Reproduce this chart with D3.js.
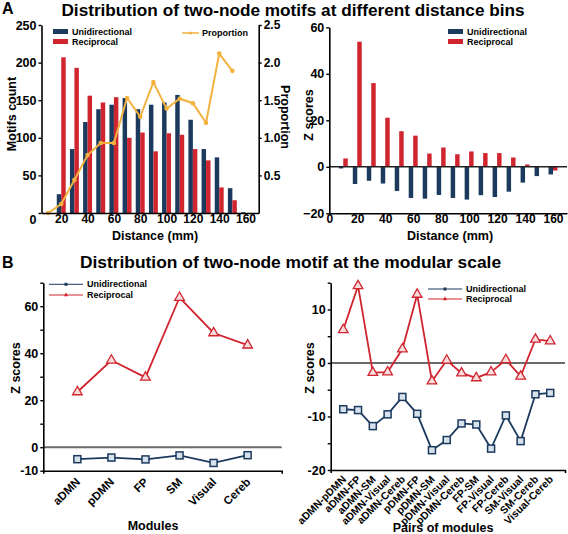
<!DOCTYPE html>
<html><head><meta charset="utf-8">
<script src="https://cdn.jsdelivr.net/npm/d3@7/dist/d3.min.js"></script>
<style>
body{margin:0;background:#fff;}
svg{display:block;font-family:"Liberation Sans",Arial,sans-serif;font-weight:bold;}
</style></head>
<body>
<script>
// ---------- DATA ----------
const distanceBins = [10,20,30,40,50,60,70,80,90,100,110,120,130,140,150,160];
const countUni = [0,25,85,121,138,144,153,138,144,147,157,124,85,74,33,1];
const countRec = [0,207,193,156,147,154,100,107,82,106,104,85,70,34,17,0];
const proportion = [0,0.12,0.44,0.77,0.93,0.93,1.53,1.28,1.74,1.39,1.52,1.46,1.20,2.12,1.89];
const zUniDist = [-0.7,-7.4,-6,-7.2,-10.4,-13.4,-13.7,-12.1,-13.4,-14.1,-12.2,-13,-10.7,-6.8,-4,-3.3];
const zRecDist = [3.6,53.8,36,21.1,15.3,13.4,5.7,8.3,5.4,6.6,5.9,5.9,4,1,0.3,-1.6];
const distTicksA = [20,40,60,80,100,120,140,160];
const distTicksB = [0,20,40,60,80,100,120,140,160];
const countTicks = [0,50,100,150,200,250];
const propTicks = [0.5,1,1.5,2,2.5];
const zDistTicks = [-20,0,20,40,60];

const modules = ["aDMN","pDMN","FP","SM","Visual","Cereb"];
const zUniMod = [-5.1,-4.4,-5.2,-3.5,-6.7,-3.4];
const zRecMod = [23.5,37,29.7,63.7,48.6,43.4];
const zModTicks = [-10,0,10,20,30,40,50,60,70];
const zModLabels = [-10,0,20,40,60];

const pairs = ["aDMN-pDMN","aDMN-FP","aDMN-SM","aDMN-Visual","aDMN-Cereb","pDMN-FP","pDMN-SM","pDMN-Visual","pDMN-Cereb","FP-SM","FP-Visual","FP-Cereb","SM-Visual","SM-Cereb","Visual-Cereb"];
const zUniPair = [-8.65,-8.8,-11.8,-9.6,-6.35,-9.5,-16.3,-14.4,-11.3,-11.5,-16,-9.8,-14.6,-5.85,-5.6];
const zRecPair = [6.2,14.4,-1.8,-1.7,2.6,12.8,-3.4,0.5,-1.9,-2.8,-1.7,0.6,-2.5,4.4,4.1];
const zPairTicks = [-20,-15,-10,-5,0,5,10,15];
const zPairLabels = [-20,-10,0,10];

// ---------- STYLE ----------
const BLUE = "#1b3a5e", RED = "#d0242f", ORANGE = "#f2b23e", GRAY = "#6b6b6b";
const W = 568, H = 534;
const svg = d3.select("body").append("svg").attr("width", W).attr("height", H);

function styleAxis(g, fs){
  g.selectAll("path").attr("stroke","#000").attr("stroke-width",1.6);
  g.selectAll("line").attr("stroke","#000").attr("stroke-width",1.4);
  g.selectAll("text").attr("font-size",fs).attr("font-weight","bold")
   .attr("font-family","'Liberation Sans',Arial,sans-serif").attr("fill","#000");
}
function label(x,y,t,fs,rot,anchor){
  const el = svg.append("text").attr("x",x).attr("y",y).attr("font-size",fs)
    .attr("text-anchor",anchor||"middle").attr("dominant-baseline","central").text(t);
  if(rot) el.attr("transform",`rotate(${rot},${x},${y})`);
  return el;
}

// Titles
svg.append("text").attr("x",2).attr("y",14).attr("font-size",16).text("A");
svg.append("text").attr("x",293).attr("y",15.5).attr("font-size",17.2).attr("text-anchor","middle")
  .text("Distribution of two-node motifs at different distance bins");
svg.append("text").attr("x",2).attr("y",268).attr("font-size",16).text("B");
svg.append("text").attr("x",290.5).attr("y",268).attr("font-size",17.4).attr("text-anchor","middle")
  .text("Distribution of two-node motif at the modular scale");

// ---------- Panel A left: counts ----------
{
  const x = d3.scaleLinear().domain([5,170]).range([41.5,258.7]);
  const y = d3.scaleLinear().domain([0,250]).range([213,25]);
  const yp = d3.scaleLinear().domain([0,2.5]).range([213,25]);
  const bw = (x(10)-x(0))*0.34;
  const g = svg.append("g");
  g.selectAll(".bu").data(distanceBins).enter().append("rect")
    .attr("x",d=>x(d)-bw).attr("width",bw)
    .attr("y",(d,i)=>y(countUni[i])).attr("height",(d,i)=>y(0)-y(countUni[i])).attr("fill",BLUE);
  g.selectAll(".br").data(distanceBins).enter().append("rect")
    .attr("x",d=>x(d)).attr("width",bw)
    .attr("y",(d,i)=>y(countRec[i])).attr("height",(d,i)=>y(0)-y(countRec[i])).attr("fill",RED);
  const pts = proportion.map((v,i)=>[distanceBins[i],v]);
  g.append("path").datum(pts).attr("fill","none").attr("stroke",ORANGE).attr("stroke-width",2)
    .attr("d",d3.line().x(d=>x(d[0])).y(d=>yp(d[1])));
  g.selectAll(".pp").data(pts).enter().append("circle").attr("cx",d=>x(d[0])).attr("cy",d=>yp(d[1]))
    .attr("r",2.3).attr("fill",ORANGE);
  const ax = svg.append("g").attr("transform","translate(0,213)")
    .call(d3.axisBottom(x).tickValues(distTicksA).tickSize(0).tickPadding(1.5).tickSizeOuter(0));
  styleAxis(ax,12);
  const ay = svg.append("g").attr("transform","translate(41.5,0)")
    .call(d3.axisLeft(y).tickValues(countTicks).tickSize(3).tickPadding(2).tickSizeOuter(0));
  styleAxis(ay,12.5);
  ay.selectAll(".tick").filter(d=>d===0).select("text").attr("dy","0.8em");
  const ar = svg.append("g").attr("transform","translate(258.7,0)")
    .call(d3.axisRight(yp).tickValues(propTicks).tickSize(3).tickPadding(2).tickSizeOuter(0));
  styleAxis(ar,12);
  label(12,114,"Motifs count",12.5,-90);
  label(285,117,"Proportion",12.5,90);
  label(155,236,"Distance (mm)",12.5);
  // legend
  svg.append("rect").attr("x",53).attr("y",29).attr("width",15).attr("height",5).attr("fill",BLUE);
  svg.append("rect").attr("x",53).attr("y",39).attr("width",15).attr("height",5).attr("fill",RED);
  label(72,31.5,"Unidirectional",9,0,"start");
  label(72,42,"Reciprocal",9,0,"start");
  svg.append("line").attr("x1",182).attr("x2",199).attr("y1",33).attr("y2",33).attr("stroke",ORANGE).attr("stroke-width",1.5);
  svg.append("circle").attr("cx",190.5).attr("cy",33).attr("r",1.5).attr("fill",ORANGE);
  label(202,33,"Proportion",9,0,"start");
}

// ---------- Panel A right: Z scores by distance ----------
{
  const x = d3.scaleLinear().domain([0,170]).range([329.3,567]);
  const y = d3.scaleLinear().domain([-20,60]).range([213.3,27.3]);
  const bw = (x(10)-x(0))*0.32;
  const g = svg.append("g");
  g.selectAll(".bu").data(distanceBins).enter().append("rect")
    .attr("x",d=>x(d)-bw).attr("width",bw)
    .attr("y",(d,i)=>Math.min(y(0),y(zUniDist[i]))).attr("height",(d,i)=>Math.abs(y(0)-y(zUniDist[i]))).attr("fill",BLUE);
  g.selectAll(".br").data(distanceBins).enter().append("rect")
    .attr("x",d=>x(d)).attr("width",bw)
    .attr("y",(d,i)=>Math.min(y(0),y(zRecDist[i]))).attr("height",(d,i)=>Math.abs(y(0)-y(zRecDist[i]))).attr("fill",RED);
  g.append("line").attr("x1",x(0)).attr("x2",567).attr("y1",y(0)).attr("y2",y(0)).attr("stroke","#222").attr("stroke-width",1.5);
  const ax = svg.append("g").attr("transform","translate(0,213.3)")
    .call(d3.axisBottom(x).tickValues(distTicksB).tickSize(0).tickPadding(1.5).tickSizeOuter(0));
  styleAxis(ax,12);
  const ay = svg.append("g").attr("transform","translate(329.3,0)")
    .call(d3.axisLeft(y).tickValues(zDistTicks).tickSize(3).tickPadding(2).tickSizeOuter(0));
  styleAxis(ay,12.5);
  label(309,115,"Z scores",12.5,-90);
  label(450,236,"Distance (mm)",12.5);
  svg.append("rect").attr("x",448).attr("y",29).attr("width",15).attr("height",5).attr("fill",BLUE);
  svg.append("rect").attr("x",448).attr("y",39).attr("width",15).attr("height",5).attr("fill",RED);
  label(467,31.5,"Unidirectional",9,0,"start");
  label(467,42,"Reciprocal",9,0,"start");
}

// ---------- marker helpers ----------
function drawSeries(g, xs, ys, vals, color, kind){
  const pts = vals.map((v,i)=>[xs(i+1), ys(v)]);
  g.append("path").datum(pts).attr("fill","none").attr("stroke",color).attr("stroke-width",1.8)
    .attr("d",d3.line());
  if(kind==="square"){
    g.selectAll(null).data(pts).enter().append("rect")
      .attr("x",d=>d[0]-3.5).attr("y",d=>d[1]-3.5).attr("width",7).attr("height",7)
      .attr("fill","#d8e2ec").attr("stroke",color).attr("stroke-width",1.5);
  } else {
    const s = d3.symbol().type(d3.symbolTriangle).size(40);
    g.selectAll(null).data(pts).enter().append("path")
      .attr("transform",d=>`translate(${d[0]},${d[1]})`).attr("d",s())
      .attr("fill","#f6dcdc").attr("stroke",color).attr("stroke-width",1.3);
  }
}
function lineLegend(x0,y0,txt,color,kind){
  svg.append("line").attr("x1",x0).attr("x2",x0+34).attr("y1",y0).attr("y2",y0).attr("stroke",color).attr("stroke-width",1);
  if(kind==="square") svg.append("rect").attr("x",x0+15.5).attr("y",y0-1.5).attr("width",3).attr("height",3).attr("fill",color);
  else svg.append("path").attr("transform",`translate(${x0+17},${y0})`).attr("d",d3.symbol().type(d3.symbolTriangle).size(8)()).attr("fill",color);
  label(x0+38,y0,txt,9,0,"start");
}

// ---------- Panel B left: modules ----------
{
  const x = d3.scaleLinear().domain([0,7]).range([43.3,281.7]);
  const y = d3.scaleLinear().domain([-10,70]).range([470.7,282.7]);
  const g = svg.append("g");
  g.append("line").attr("x1",43.3).attr("x2",281.7).attr("y1",y(0)).attr("y2",y(0)).attr("stroke",GRAY).attr("stroke-width",2);
  drawSeries(g,x,y,zRecMod,RED,"tri");
  drawSeries(g,x,y,zUniMod,BLUE,"square");
  const ax = svg.append("g").attr("transform","translate(0,470.7)")
    .call(d3.axisBottom(x).tickValues(d3.range(1,modules.length+1)).tickFormat(d=>modules[d-1]).tickSize(0).tickSizeOuter(3));
  styleAxis(ax,11.5);
  ax.selectAll(".tick text").attr("text-anchor","end").attr("dy",0).attr("y",0)
    .attr("transform","translate(3,12) rotate(-45)");
  const ay = svg.append("g").attr("transform","translate(43.3,0)")
    .call(d3.axisLeft(y).tickValues(zModTicks).tickSize(3).tickPadding(2).tickSizeOuter(0)
      .tickFormat(d=>zModLabels.includes(d)?d:""));
  styleAxis(ay,12.5);
  label(16,368,"Z scores",12.5,-90);
  label(153,526,"Modules",12.5);
  lineLegend(49,284.3,"Unidirectional",BLUE,"square");
  lineLegend(49,295,"Reciprocal",RED,"tri");
}

// ---------- Panel B right: pairs ----------
{
  const x = d3.scaleLinear().domain([0.15,16]).range([330.7,565]);
  const y = d3.scaleLinear().domain([-20,15]).range([470,282.7]);
  const g = svg.append("g");
  g.append("line").attr("x1",330.7).attr("x2",565).attr("y1",y(0)).attr("y2",y(0)).attr("stroke",GRAY).attr("stroke-width",2);
  drawSeries(g,x,y,zRecPair,RED,"tri");
  drawSeries(g,x,y,zUniPair,BLUE,"square");
  const ax = svg.append("g").attr("transform","translate(0,470)")
    .call(d3.axisBottom(x).tickValues(d3.range(1,pairs.length+1)).tickFormat(d=>pairs[d-1]).tickSize(0).tickSizeOuter(3));
  styleAxis(ax,10.5);
  ax.selectAll(".tick text").attr("text-anchor","end").attr("dy",0).attr("y",0)
    .attr("transform","translate(3,10) rotate(-45)");
  const ay = svg.append("g").attr("transform","translate(330.7,0)")
    .call(d3.axisLeft(y).tickValues(zPairTicks).tickSize(3).tickPadding(2).tickSizeOuter(0)
      .tickFormat(d=>zPairLabels.includes(d)?d:""));
  styleAxis(ay,12.5);
  label(310,368,"Z scores",12.5,-90);
  label(443,528,"Pairs of modules",12.5);
  lineLegend(428,289,"Unidirectional",BLUE,"square");
  lineLegend(428,299,"Reciprocal",RED,"tri");
}
</script>
</body></html>
